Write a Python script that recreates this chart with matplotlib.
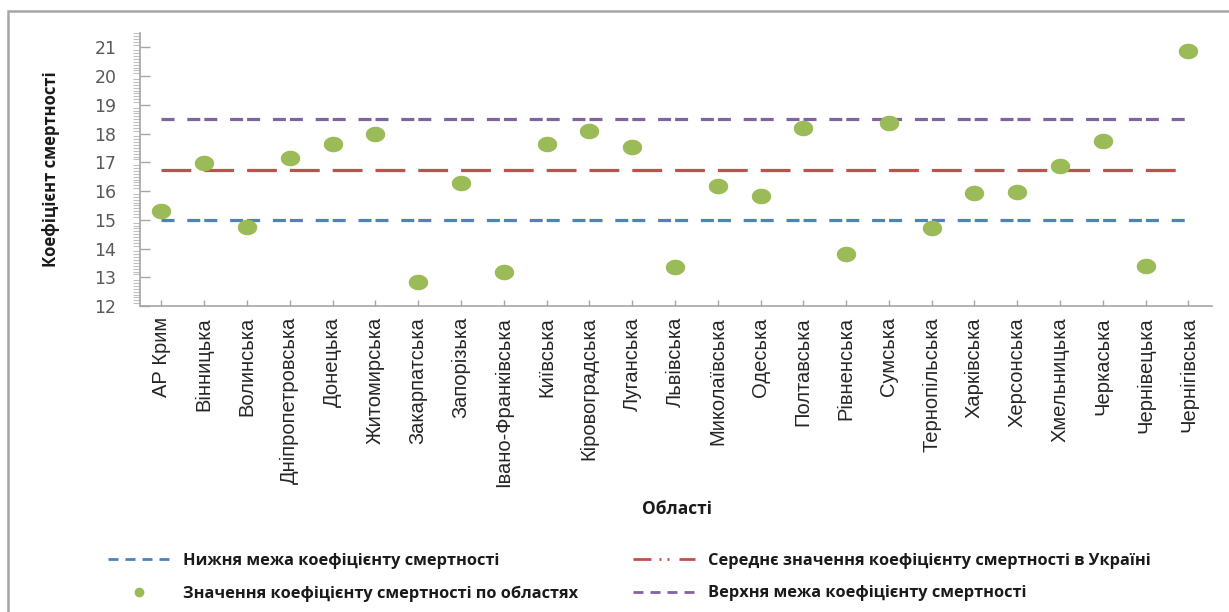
import numpy as np
import matplotlib
matplotlib.use("Agg")
import matplotlib.pyplot as plt
from matplotlib.lines import Line2D
from matplotlib.patches import Rectangle
from matplotlib.ticker import MultipleLocator

plt.rcParams['lines.scale_dashes'] = False

regions = ['АР Крим', 'Вінницька', 'Волинська', 'Дніпропетровська', 'Донецька',
           'Житомирська', 'Закарпатська', 'Запорізька', 'Івано-Франківська',
           'Київська', 'Кіровоградська', 'Луганська', 'Львівська', 'Миколаївська',
           'Одеська', 'Полтавська', 'Рівненська', 'Сумська', 'Тернопільська',
           'Харківська', 'Херсонська', 'Хмельницька', 'Черкаська', 'Чернівецька',
           'Чернігівська']
mortality = [15.31, 16.99, 14.74, 17.16, 17.63, 17.98, 12.84, 16.27, 13.19,
             17.63, 18.09, 17.55, 13.36, 16.17, 15.84, 18.19, 13.80, 18.38,
             14.70, 15.94, 15.98, 16.87, 17.74, 13.38, 20.88]
lower_limit = 15.0
mean_value = 16.75
upper_limit = 18.5

BLUE = '#4F81BD'
RED = '#C0504D'
PURPLE = '#8064A2'
GREEN = '#9BBB59'

x = np.arange(len(regions))
px = 0.72  # pixel -> point at dpi 100

fig = plt.figure(figsize=(12.29, 6.12), dpi=100)
ax = fig.add_axes([140 / 1229, 0.5, 1072 / 1229, 0.446])

# segment-like dashes, one period per category
seg_dash = (17 * px, (13 * px, 4 * px, 13 * px, 12.8 * px))
ax.plot(x, np.full(len(x), lower_limit), color=BLUE, lw=2.3,
        linestyle=seg_dash, solid_capstyle='butt')
ax.plot(x, np.full(len(x), upper_limit), color=PURPLE, lw=2.3,
        linestyle=seg_dash, solid_capstyle='butt')
ax.plot(x, np.full(len(x), mean_value), color=RED, lw=2.3,
        linestyle=(0, (29.8 * px, 13 * px)))

# slightly flattened dots
t = np.linspace(0, 2 * np.pi, 60)
ellipse = np.column_stack([np.cos(t), 0.8 * np.sin(t)])
ax.plot(x, mortality, linestyle='none', marker=ellipse, ms=14,
        color=GREEN, markeredgewidth=0, zorder=5)

ax.set_xlim(-0.5, 24.55)
ax.set_ylim(12, 21.5)
ax.set_xticks(x)
ax.set_xticklabels(regions, rotation=90, fontsize=14.5, color='#262626',
                   family=['Liberation Sans', 'DejaVu Sans'])
ax.yaxis.set_major_locator(MultipleLocator(1))
ax.yaxis.set_minor_locator(MultipleLocator(0.1))
ax.set_yticks(np.arange(12, 22))
for lbl in ax.get_yticklabels():
    lbl.set_family('DejaVu Sans')

ax.tick_params(axis='y', which='major', direction='in', length=7, width=1,
               color='#A6A6A6', labelsize=12.5, labelcolor='#595959', pad=17)
ax.tick_params(axis='y', which='minor', direction='out', length=5, width=0.8,
               color='#BFBFBF')
ax.tick_params(axis='x', which='major', direction='in', length=4, width=1,
               color='#A6A6A6', pad=8)

for side in ('top', 'right'):
    ax.spines[side].set_visible(False)
for side in ('left', 'bottom'):
    ax.spines[side].set_color('#A6A6A6')
    ax.spines[side].set_linewidth(1.2)

ax.set_ylabel('Коефіцієнт смертності', fontsize=12, fontweight='bold',
              family=['Open Sans', 'DejaVu Sans'], color='#1a1a1a')
ax.yaxis.set_label_coords((60 - 140) / 1072, 0.5)
fig.text(677 / 1229, 1 - 509 / 612, 'Області', ha='center', va='center',
         fontsize=12.5, fontweight='bold', family=['Open Sans', 'DejaVu Sans'],
         color='#1a1a1a')

# outer chart frame
fig.add_artist(Rectangle((8 / 1229, -0.05), 1.1, 1.05 - 11 / 612,
                         transform=fig.transFigure, fill=False,
                         edgecolor='#A6A6A6', lw=1.8, clip_on=False))

leg_font = dict(family=['Open Sans', 'DejaVu Sans'], weight='bold', size=11.8)
h_low = Line2D([], [], color=BLUE, lw=2, linestyle=(0, (10 * px, 7 * px)))
h_dot = Line2D([], [], color=GREEN, linestyle='none', marker='o', ms=7,
               markeredgewidth=0)
h_mean = Line2D([], [], color=RED, lw=2,
                linestyle=(0, (18 * px, 8 * px, 2 * px, 6 * px, 2 * px, 10 * px)))
h_up = Line2D([], [], color=PURPLE, lw=2, linestyle=(0, (10 * px, 7 * px)))

common = dict(loc='upper left', bbox_transform=fig.transFigure, frameon=False,
              borderpad=0, borderaxespad=0, handlelength=3.8,
              handletextpad=0.75, labelspacing=1.0, prop=leg_font,
              labelcolor='#1a1a1a')
fig.legend([h_low, h_dot],
           ['Нижня межа коефіцієнту смертності',
            'Значення коефіцієнту смертності по областях'],
           bbox_to_anchor=(108 / 1229, 1 - 553 / 612), **common)
fig.legend([h_mean, h_up],
           ['Середнє значення коефіцієнту смертності в Україні',
            'Верхня межа коефіцієнту смертності'],
           bbox_to_anchor=(633 / 1229, 1 - 553 / 612), **common)

fig.savefig('out.png', dpi=100)
